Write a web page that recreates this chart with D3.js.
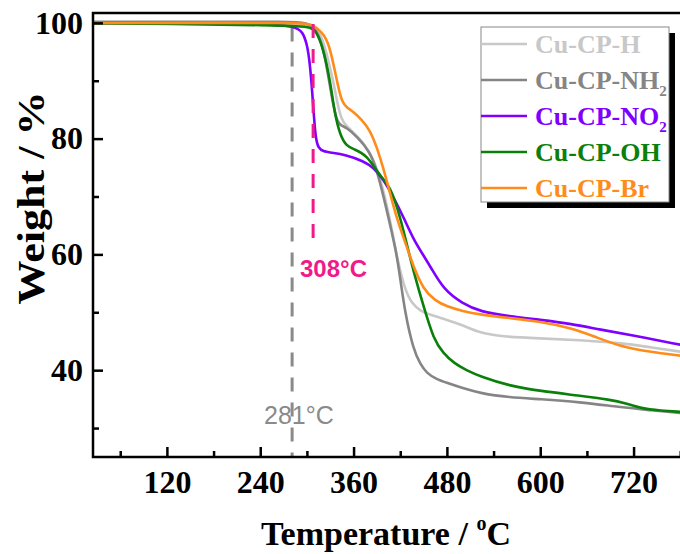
<!DOCTYPE html>
<html lang="en">
<head>
<meta charset="UTF-8">
<script src="https://cdn.jsdelivr.net/npm/d3@7"></script>
<style>
    body { margin: 0; background: #fff; }
    svg { display: block; }
    .axis path, .axis line { stroke: #000; stroke-width: 2.5px; }
    .axis text { font-family: "Liberation Serif", serif; font-weight: bold; font-size: 32px; fill: #000; }
</style>
</head>
<body>
<script>
    /*------------------- data --------------------*/
    const seriesNames = ["Cu-CP-H", "Cu-CP-NH2", "Cu-CP-NO2", "Cu-CP-OH", "Cu-CP-Br"];
    const seriesColors = ["#c8c8c8", "#858585", "#7f00ff", "#0a800a", "#ff8c1a"];

    const tempH = [25, 150, 280, 305, 317, 325, 334, 340, 345, 350, 360, 373, 385, 394, 407, 416, 426, 435, 446, 460, 480, 500, 523, 550, 600, 650, 703, 740, 780];
    const weightH = [100, 100, 99.9, 99.6, 98.5, 95, 89.9, 85.5, 83.2, 82.3, 81, 79.3, 76.5, 73.5, 66, 59.3, 53.9, 51.5, 50.2, 49.5, 48.7, 47.8, 46.4, 45.8, 45.5, 45.2, 44.7, 44, 43.2];

    const tempNH2 = [25, 150, 280, 300, 312, 322, 332, 338.6, 345, 351, 364, 381, 390, 398.6, 408, 414, 420, 426, 437, 446, 454, 466, 480, 500, 523, 560, 600, 650, 703, 740, 780];
    const weightNH2 = [100.2, 100.2, 100.2, 100, 99, 95.5, 87, 82.8, 82.2, 81.9, 80.4, 77.8, 74.5, 70, 64.5, 61, 56, 50, 43.5, 41, 39.5, 38.5, 37.8, 36.9, 36, 35.3, 35, 34.5, 33.6, 33.1, 32.6];

    const tempNO2 = [25, 150, 270, 281, 288, 294, 300, 304, 308, 311, 315, 321, 330, 350, 373, 386, 398, 411, 425, 437, 450, 460, 476, 500, 523, 560, 600, 640, 677, 720, 780];
    const weightNO2 = [100, 100, 99.7, 99.3, 99, 98.5, 96.5, 93, 86, 80, 78.3, 77.8, 77.6, 77.2, 76.1, 75, 73, 70, 66.2, 62.6, 59.8, 57.6, 53.9, 51.5, 50.1, 49.3, 48.7, 48, 47, 46, 44.4];

    const tempOH = [25, 150, 250, 290, 305, 311, 321, 330, 336, 343, 351, 360, 377, 394, 407, 420, 435, 450, 463, 475, 489, 505, 523, 560, 600, 650, 690, 710, 729, 755, 780];
    const weightOH = [99.9, 99.8, 99.6, 99.4, 99.2, 98.8, 95.7, 89.9, 84.1, 80.5, 78.7, 78.2, 77.2, 73.5, 71.8, 66.6, 58, 51, 45.3, 43, 41.2, 40, 38.9, 37.3, 36.4, 35.6, 34.9, 34.3, 33.4, 33, 32.8];

    const tempBr = [25, 150, 290, 305, 313, 322, 330, 338.6, 345, 352, 360, 370, 381, 390, 399, 408, 416, 428, 437, 450, 465, 480, 500, 523, 560, 600, 639, 670, 703, 740, 780];
    const weightBr = [100, 100, 100, 99.8, 99.1, 98, 95.7, 89.9, 86.2, 85.3, 84.6, 83.3, 81.5, 78.5, 74.6, 70, 66, 61.5, 57.9, 53.9, 52, 51, 50.2, 49.6, 49, 48.4, 47.3, 45.8, 44.1, 43.2, 42.5];

    const xMajorTicks = [120, 240, 360, 480, 600, 720];
    const xMinorTicks = [60, 180, 300, 420, 540, 660, 780];
    const yMajorTicks = [40, 60, 80, 100];
    const yMinorTicks = [30, 50, 70, 90];

    // onset temperatures marked with dashed lines
    const onsetTemps = [281, 308];
    const onsetTops = [99.2, 99.8];
    const onsetBottoms = [25, 61];
    const onsetColors = ["#8a8a8a", "#f01a8c"];

    /*------------------- layout --------------------*/
    const width = 680, height = 554;
    const plotLeft = 93, plotTop = 13, plotBottom = 457;

    const x = d3.scaleLinear().domain([25, 790]).range([plotLeft, plotLeft + 765 * 0.7778]);
    const y = d3.scaleLinear().domain([25, 101.7]).range([plotBottom, plotTop]);

    const svg = d3.select("body").append("svg")
        .attr("width", width)
        .attr("height", height);

    const series = seriesNames.map((name, i) => {
        const t = [tempH, tempNH2, tempNO2, tempOH, tempBr][i];
        const w = [weightH, weightNH2, weightNO2, weightOH, weightBr][i];
        return { name: name, color: seriesColors[i], values: t.map((v, j) => ({ t: v, w: w[j] })) };
    });

    /*------------------- curves --------------------*/
    const line = d3.line()
        .x(d => x(d.t))
        .y(d => y(d.w))
        .curve(d3.curveBasis);

    // gray dashed line sits behind the curves
    svg.append("line")
        .attr("x1", x(onsetTemps[0])).attr("x2", x(onsetTemps[0]))
        .attr("y1", y(onsetTops[0])).attr("y2", y(onsetBottoms[0]))
        .attr("stroke", onsetColors[0])
        .attr("stroke-width", 3)
        .attr("stroke-dasharray", "14,11");

    svg.selectAll("path.curve")
        .data(series)
        .enter()
        .append("path")
        .attr("class", "curve")
        .attr("d", d => line(d.values))
        .attr("fill", "none")
        .attr("stroke", d => d.color)
        .attr("stroke-width", 2.6);

    svg.append("line")
        .attr("x1", x(onsetTemps[1])).attr("x2", x(onsetTemps[1]))
        .attr("y1", y(onsetTops[1])).attr("y2", y(onsetBottoms[1]))
        .attr("stroke", onsetColors[1])
        .attr("stroke-width", 3)
        .attr("stroke-dasharray", "14,11");

    // annotation labels
    const labelFont = "'Liberation Sans', Arial, sans-serif";
    svg.append("text")
        .attr("x", 300).attr("y", 277)
        .attr("font-family", labelFont).attr("font-weight", "bold")
        .attr("font-size", 24).attr("fill", onsetColors[1])
        .text(onsetTemps[1] + "°C");

    svg.append("text")
        .attr("x", 264).attr("y", 424)
        .attr("font-family", labelFont)
        .attr("font-size", 25).attr("fill", onsetColors[0])
        .text(onsetTemps[0] + "°C");

    /*------------------- axes --------------------*/
    svg.append("g")
        .attr("class", "axis")
        .attr("transform", `translate(0,${plotBottom})`)
        .call(d3.axisBottom(x).tickValues(xMajorTicks).tickSize(-10).tickPadding(13).tickSizeOuter(0))
        .select(".domain").remove();

    svg.append("g")
        .attr("class", "axis")
        .attr("transform", `translate(0,${plotBottom})`)
        .call(d3.axisBottom(x).tickValues(xMinorTicks).tickSize(-6).tickFormat("").tickSizeOuter(0))
        .select(".domain").remove();

    svg.append("g")
        .attr("class", "axis")
        .attr("transform", `translate(${plotLeft},0)`)
        .call(d3.axisLeft(y).tickValues(yMajorTicks).tickSize(-10).tickPadding(10).tickSizeOuter(0))
        .select(".domain").remove();

    svg.append("g")
        .attr("class", "axis")
        .attr("transform", `translate(${plotLeft},0)`)
        .call(d3.axisLeft(y).tickValues(yMinorTicks).tickSize(-6).tickFormat("").tickSizeOuter(0))
        .select(".domain").remove();

    // frame
    svg.append("rect")
        .attr("x", plotLeft).attr("y", plotTop)
        .attr("width", x.range()[1] - plotLeft).attr("height", plotBottom - plotTop)
        .attr("fill", "none")
        .attr("stroke", "#000")
        .attr("stroke-width", 2.5);

    /*------------------- titles --------------------*/
    const titleFont = "'Liberation Serif', 'Times New Roman', serif";
    const xTitle = svg.append("text")
        .attr("x", 386).attr("y", 545)
        .attr("text-anchor", "middle")
        .attr("font-family", titleFont).attr("font-weight", "bold")
        .attr("font-size", 34);
    xTitle.append("tspan").text("Temperature / ");
    xTitle.append("tspan").attr("font-size", 20).attr("dy", -15).text("o");
    xTitle.append("tspan").attr("dy", 15).text("C");

    svg.append("text")
        .attr("transform", "translate(44,198) rotate(-90)")
        .attr("text-anchor", "middle")
        .attr("font-family", titleFont).attr("font-weight", "bold")
        .attr("font-size", 38)
        .attr("textLength", 213)
        .attr("lengthAdjust", "spacingAndGlyphs")
        .text("Weight / %");

    /*------------------- legend --------------------*/
    const lg = { x: 481, y: 27, w: 188, h: 175 };
    svg.append("rect")
        .attr("x", lg.x + 6).attr("y", lg.y + 6)
        .attr("width", lg.w).attr("height", lg.h)
        .attr("fill", "#000");
    svg.append("rect")
        .attr("x", lg.x).attr("y", lg.y)
        .attr("width", lg.w).attr("height", lg.h)
        .attr("fill", "#fff")
        .attr("stroke", "#888")
        .attr("stroke-width", 1);

    const rows = svg.selectAll("g.legendRow")
        .data(series)
        .enter()
        .append("g")
        .attr("class", "legendRow")
        .attr("transform", (d, i) => `translate(${lg.x},${lg.y + 17 + i * 36})`);

    rows.append("line")
        .attr("x1", 0).attr("x2", 46)
        .attr("stroke", d => d.color)
        .attr("stroke-width", 2.6);

    rows.each(function (d) {
        const t = d3.select(this).append("text")
            .attr("x", 54).attr("y", 9)
            .attr("font-family", titleFont).attr("font-weight", "bold")
            .attr("font-size", 26)
            .attr("fill", d.color);
        if (d.name.endsWith("2")) {
            t.append("tspan").text(d.name.slice(0, -1));
            t.append("tspan").attr("font-size", 15).attr("dy", 7).text("2");
        } else {
            t.text(d.name);
        }
    });
</script>
</body>
</html>
